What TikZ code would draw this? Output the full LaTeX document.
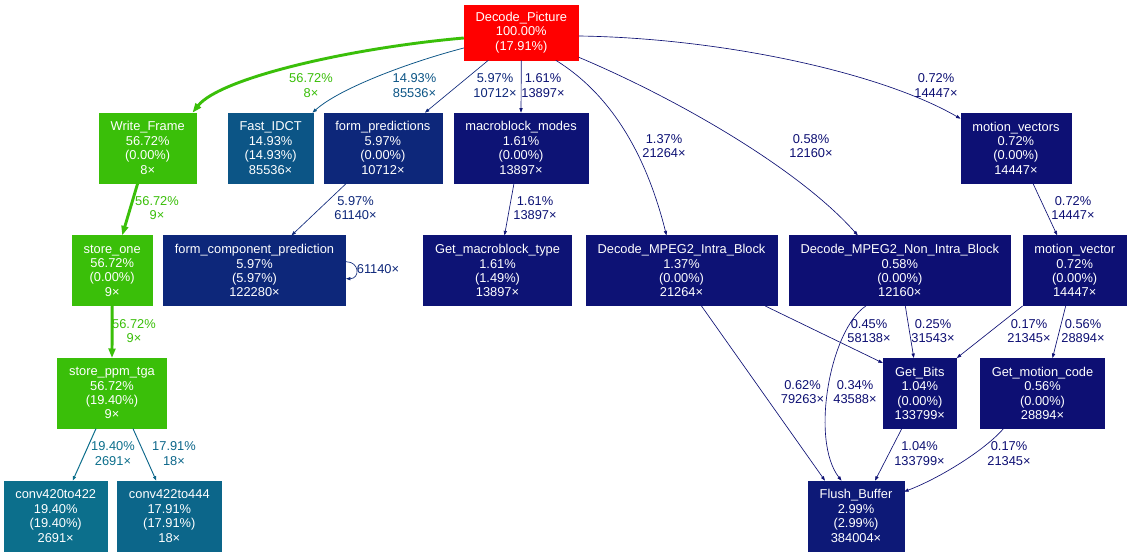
\documentclass[tikz,border=0pt]{standalone}
\usepackage{fontspec}
\setmainfont{Liberation Sans}
\usetikzlibrary{arrows.meta,calc}
\newcommand\gfs{\fontsize{12.85}{14.4}\selectfont}
\definecolor{cred}{HTML}{FF0000}
\definecolor{cgreen}{HTML}{3ABF09}
\definecolor{cidct}{HTML}{0C5586}
\definecolor{cfp}{HTML}{0D277A}
\definecolor{cmm}{HTML}{0D1375}
\definecolor{cmv}{HTML}{0D1074}
\definecolor{cintra}{HTML}{0D1275}
\definecolor{clow}{HTML}{0D0F73}
\definecolor{cvlow}{HTML}{0D0E73}
\definecolor{cgb}{HTML}{0D1174}
\definecolor{cfb}{HTML}{0D1977}
\definecolor{cca}{HTML}{0C6F8C}
\definecolor{ccb}{HTML}{0C668A}
\tikzset{
  fn/.style={rectangle, fill=#1, draw=#1, line width=0.6pt, text=white, align=center,
    inner xsep=11.5pt, inner ysep=0pt, minimum height=70pt, font=\gfs},
  lbl/.style={text=#1, align=center, inner sep=0pt, font=\gfs},
  ed/.style={draw=#1, line width=0.65pt, -{Triangle[length=4.5pt,width=3.2pt]}},
  edg/.style={draw=cgreen, line width=2.9pt, -{Triangle[length=9.5pt,width=6.8pt]}},
}
\begin{document}
\begin{tikzpicture}[x=1pt,y=-1pt]
\fill[white] (0,0) rectangle (1131,556);
\useasboundingbox (0,0) rectangle (1131,556);
% nodes
\node[fn=cred, minimum height=55pt] (DP) at (521.3,32.5) {Decode\_Picture\\100.00\%\\(17.91\%)};
\node[fn=cgreen] (WF) at (147.7,148) {Write\_Frame\\56.72\%\\(0.00\%)\\8×};
\node[fn=cidct] (FI) at (270.6,148) {Fast\_IDCT\\14.93\%\\(14.93\%)\\85536×};
\node[fn=cfp] (FP) at (382.9,148) {form\_predictions\\5.97\%\\(0.00\%)\\10712×};
\node[fn=cmm] (MM) at (521,148) {macroblock\_modes\\1.61\%\\(0.00\%)\\13897×};
\node[fn=cmv] (MVS) at (1015.9,148) {motion\_vectors\\0.72\%\\(0.00\%)\\14447×};
\node[fn=cgreen] (SO) at (112.2,270.7) {store\_one\\56.72\%\\(0.00\%)\\9×};
\node[fn=cfp] (FCP) at (254.5,270.7) {form\_component\_prediction\\5.97\%\\(5.97\%)\\122280×};
\node[fn=cmm] (GMT) at (497.5,270.7) {Get\_macroblock\_type\\1.61\%\\(1.49\%)\\13897×};
\node[fn=cintra] (INTRA) at (681.5,270.7) {Decode\_MPEG2\_Intra\_Block\\1.37\%\\(0.00\%)\\21264×};
\node[fn=clow] (NONINTRA) at (899.8,270.7) {Decode\_MPEG2\_Non\_Intra\_Block\\0.58\%\\(0.00\%)\\12160×};
\node[fn=cmv] (MV) at (1074.7,270.7) {motion\_vector\\0.72\%\\(0.00\%)\\14447×};
\node[fn=cgreen] (SPT) at (112,393.3) {store\_ppm\_tga\\56.72\%\\(19.40\%)\\9×};
\node[fn=cgb] (GB) at (919.8,393.3) {Get\_Bits\\1.04\%\\(0.00\%)\\133799×};
\node[fn=clow] (GMC) at (1042.5,393.3) {Get\_motion\_code\\0.56\%\\(0.00\%)\\28894×};
\node[fn=cca] (C420) at (55.7,516) {conv420to422\\19.40\%\\(19.40\%)\\2691×};
\node[fn=ccb] (C422) at (169.3,516) {conv422to444\\17.91\%\\(17.91\%)\\18×};
\node[fn=cfb] (FB) at (856,516) {Flush\_Buffer\\2.99\%\\(2.99\%)\\384004×};
% edges
\draw[edg] ($(DP.west)+(0,5.5)$) .. controls (350,48) and (220,78) .. ($(WF.north east)+(-4,0)$);
\draw[ed=cidct, line width=0.77pt] ($(DP.west)+(0,15.5)$) .. controls (410,62) and (340,88) .. ($(FI.north east)+(-1,0)$);
\draw[ed=cfp] ($(DP.south)+(-33,0)$) -- ($(FP.north)+(42,0)$);
\draw[ed=cmm] (DP.south) -- (MM.north);
\draw[ed=cintra] ($(DP.south)+(34.5,0)$) .. controls (620,100) and (650,170) .. ($(INTRA.north)+(-15,0)$);
\draw[ed=clow] ($(DP.south east)+(0,-3)$) .. controls (680,100) and (800,170) .. ($(NONINTRA.north)+(-42,0)$);
\draw[ed=cmv] ($(DP.east)+(0,3.5)$) .. controls (720,38) and (880,72) .. ($(MVS.north west)+(0,6)$);
\draw[edg] ($(WF.south)+(-10,0)$) -- ($(SO.north)+(10,0)$);
\draw[ed=cfp] ($(FP.south)+(-36.5,0)$) -- ($(FCP.north)+(37,0)$);
\draw[ed=cfp] ($(FCP.east)+(0,-9)$) .. controls +(14,0) and +(14,0) .. ($(FCP.east)+(0,8)$);
\draw[ed=cmm] ($(MM.south)+(-7,0)$) -- ($(GMT.north)+(7,0)$);
\draw[ed=cmv] ($(MVS.south)+(17,0)$) -- ($(MV.north)+(-17.5,0)$);
\draw[edg] (SO.south) -- (SPT.north);
\draw[ed=cca, line width=1pt] ($(SPT.south)+(-16,0)$) -- ($(C420.north)+(17,0)$);
\draw[ed=ccb, line width=0.92pt] ($(SPT.south)+(21,0)$) -- ($(C422.north)+(-13,0)$);
\draw[ed=cmv] ($(INTRA.south)+(20,0)$) -- ($(FB.north)+(-31,0)$);
\draw[ed=clow] ($(INTRA.south east)+(-12,0)$) -- ($(GB.north west)+(0,5)$);
\draw[ed=cvlow] ($(NONINTRA.south)+(-34,0)$) .. controls (830,330) and (810,440) .. ($(FB.north)+(-14.5,0)$);
\draw[ed=cvlow] ($(NONINTRA.south)+(5.5,0)$) -- ($(GB.north)+(-6,0)$);
\draw[ed=cvlow] (MV.south west) -- (GB.north east);
\draw[ed=clow] ($(MV.south)+(-9,0)$) -- ($(GMC.north)+(10,0)$);
\draw[ed=cgb] ($(GB.south)+(-18,0)$) -- ($(FB.north)+(19,0)$);
\draw[ed=cvlow] ($(GMC.south west)+(23.5,0)$) .. controls (985,450) and (940,478) .. ($(FB.north east)+(0,11)$);
% labels
\node[lbl=cgreen] (L1) at (311,85.5) {56.72\%\\8×};
\node[lbl=cidct] (L2) at (414.5,85.5) {14.93\%\\85536×};
\node[lbl=cfp] (L3) at (495,85.5) {5.97\%\\10712×};
\node[lbl=cmm] (L4) at (543,85.5) {1.61\%\\13897×};
\node[lbl=cintra] (L5) at (664,146) {1.37\%\\21264×};
\node[lbl=clow] (L6) at (811,146) {0.58\%\\12160×};
\node[lbl=cmv] (L7) at (936,85.5) {0.72\%\\14447×};
\node[lbl=cgreen] (L8) at (157,208) {56.72\%\\9×};
\node[lbl=cfp] (L9) at (355.5,208) {5.97\%\\61140×};
\node[lbl=cfp] (L10) at (378,269) {61140×};
\node[lbl=cmm] (L11) at (535,208) {1.61\%\\13897×};
\node[lbl=cmv] (L12) at (1073,208) {0.72\%\\14447×};
\node[lbl=cgreen] (L13) at (134,331) {56.72\%\\9×};
\node[lbl=cca] (L14) at (113,453.5) {19.40\%\\2691×};
\node[lbl=ccb] (L15) at (174,453.5) {17.91\%\\18×};
\node[lbl=clow] (L16) at (869,331) {0.45\%\\58138×};
\node[lbl=cvlow] (L17) at (933,331) {0.25\%\\31543×};
\node[lbl=cvlow] (L18) at (1029,331) {0.17\%\\21345×};
\node[lbl=clow] (L19) at (1083,331) {0.56\%\\28894×};
\node[lbl=cmv] (L20) at (802.5,392) {0.62\%\\79263×};
\node[lbl=cvlow] (L21) at (855,392) {0.34\%\\43588×};
\node[lbl=cgb] (L22) at (919.5,453.5) {1.04\%\\133799×};
\node[lbl=cvlow] (L23) at (1009,453.5) {0.17\%\\21345×};
\end{tikzpicture}
\end{document}
